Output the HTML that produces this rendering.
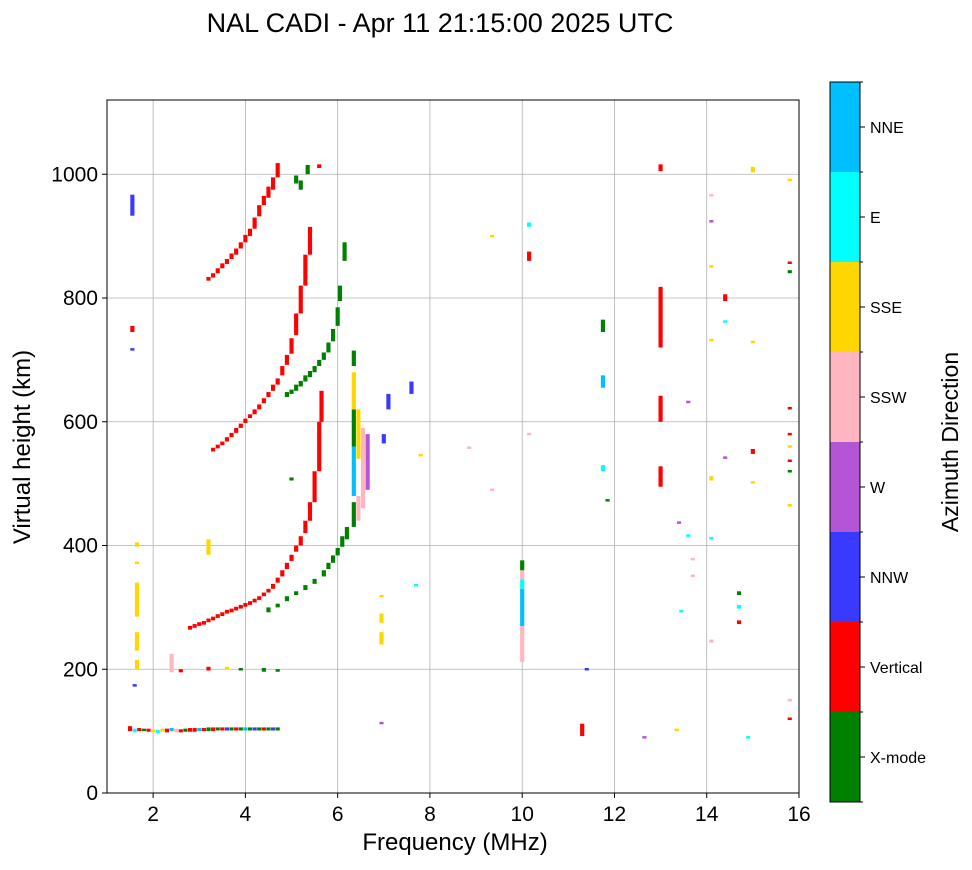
<!DOCTYPE html>
<html><head><meta charset="utf-8"><style>
body{margin:0;background:#fff;}
svg text{font-family:"Liberation Sans",sans-serif;fill:#000;}
</style></head><body>
<svg id="c" width="972" height="865" viewBox="0 0 972 865">
<text x="440" y="32" font-size="27" text-anchor="middle">NAL CADI - Apr 11 21:15:00 2025 UTC</text>
<g id="grid"></g>
<g id="marks"></g>
<rect x="107" y="100" width="692" height="693" fill="none" stroke="#000" stroke-width="1"/>
<g id="axes"></g>
<text x="455" y="850" font-size="24" text-anchor="middle">Frequency (MHz)</text>
<text transform="translate(30,447) rotate(-90)" font-size="24" text-anchor="middle">Virtual height (km)</text>
<g id="cbar"></g>
<text transform="translate(958,442) rotate(-90)" font-size="23" text-anchor="middle">Azimuth Direction</text>
</svg>
<script>
const xTicks=[2,4,6,8,10,12,14,16];
const yTicks=[0,200,400,600,800,1000];
const dirNames=["X-mode","Vertical","NNW","W","SSW","SSE","E","NNE"];
const dirColors=["#008000","#ff0000","#3a3aff","#b455d6","#ffb6c1","#ffd700","#00ffff","#00bfff"];
// traces: each point [freqMHz, heightLowKm, heightHighKm, dirIndex]
const eLayer=[[1.5,100,108,1],[1.6,98,104,6],[1.7,100,105,1],[1.8,100,104,0],[1.9,99,104,1],[2.0,98,103,5],[2.1,97,102,6],[2.2,99,104,5],[2.3,98,104,1],[2.4,100,105,7],[2.5,98,104,4],[2.6,98,103,1],[2.7,99,104,0],[2.8,99,105,1],[2.9,99,105,1],[3.0,100,105,7],[3.1,100,105,1],[3.2,100,106,0],[3.3,100,106,1],[3.4,101,106,0],[3.5,101,106,1],[3.6,101,106,2],[3.7,101,106,0],[3.8,101,106,1],[3.9,101,106,0],[4.0,101,106,7],[4.1,101,106,0],[4.2,101,106,2],[4.3,101,106,0],[4.4,101,106,1],[4.5,101,106,0],[4.6,101,106,2],[4.7,101,106,0]];
const f1Red=[[2.8,264,270,1],[2.9,267,273,1],[3.0,270,276,1],[3.1,272,278,1],[3.2,276,282,1],[3.3,279,285,1],[3.4,283,289,1],[3.5,286,292,1],[3.6,290,296,1],[3.7,292,298,1],[3.8,295,301,1],[3.9,298,304,1],[4.0,301,307,1],[4.1,304,310,1],[4.2,308,314,1],[4.3,312,318,1],[4.4,318,324,1],[4.5,324,330,1],[4.6,330,338,1],[4.7,340,348,1],[4.8,350,360,1],[4.9,362,372,1],[5.0,375,385,1],[5.1,390,400,1],[5.2,400,415,1],[5.3,420,440,1],[5.4,440,470,1],[5.5,470,520,1],[5.6,520,600,1],[5.65,600,650,1]];
const f1Green=[[4.5,292,300,0],[4.7,300,306,0],[4.9,310,318,0],[5.1,320,326,0],[5.3,328,336,0],[5.5,338,346,0],[5.7,350,360,0],[5.8,362,372,0],[5.9,372,384,0],[6.0,384,396,0],[6.1,398,415,0],[6.2,410,430,0]];
const hop2Red=[[3.3,552,558,1],[3.4,557,563,1],[3.5,562,568,1],[3.6,568,575,1],[3.7,575,582,1],[3.8,582,590,1],[3.9,590,597,1],[4.0,598,605,1],[4.1,606,612,1],[4.2,612,620,1],[4.3,620,628,1],[4.4,630,638,1],[4.5,640,648,1],[4.6,650,660,1],[4.7,660,670,1],[4.8,675,690,1],[4.9,692,708,1],[5.0,710,735,1],[5.1,740,775,1],[5.2,775,820,1],[5.3,820,870,1],[5.4,870,915,1]];
const hop2Green=[[4.9,640,648,0],[5.0,645,652,0],[5.1,650,660,0],[5.2,657,666,0],[5.3,665,675,0],[5.4,672,682,0],[5.5,680,690,0],[5.6,690,700,0],[5.7,700,712,0],[5.8,712,728,0],[5.9,730,750,0],[6.0,755,785,0],[6.05,795,820,0],[6.15,860,890,0]];
const hop3Red=[[3.2,828,834,1],[3.3,833,840,1],[3.4,840,848,1],[3.5,848,856,1],[3.6,855,863,1],[3.7,863,872,1],[3.8,870,880,1],[3.9,880,890,1],[4.0,890,902,1],[4.1,900,912,1],[4.2,912,930,1],[4.3,932,950,1],[4.4,950,965,1],[4.5,962,980,1],[4.6,975,995,1],[4.7,995,1018,1]];
const hop3Green=[[5.1,985,998,0],[5.2,975,990,0],[5.35,1000,1015,0],[5.6,1010,1016,1]];
const columns=[[1.55,933,967,2],[1.55,745,755,1],[1.55,715,719,2],[1.65,200,215,5],[1.65,230,260,5],[1.65,285,340,5],[1.65,370,374,5],[1.65,398,405,5],[1.6,172,176,2],[2.4,195,225,4],[2.6,195,200,1],[3.2,385,410,5],[3.2,198,204,1],[3.9,198,202,0],[4.4,196,202,0],[4.7,196,200,0],[6.35,430,470,0],[6.35,480,560,7],[6.35,560,620,0],[6.35,620,680,5],[6.35,690,715,0],[6.45,440,480,4],[6.45,540,620,5],[6.65,490,580,3],[6.55,460,590,4],[6.95,240,260,5],[6.95,275,290,5],[6.95,316,320,5],[7.0,565,580,2],[7.1,620,645,2],[7.6,645,665,2],[7.7,335,338,6],[7.8,545,548,5],[8.85,558,560,4],[9.35,488,492,4],[9.35,898,902,5],[10.0,212,270,4],[10.0,270,330,7],[10.0,330,345,6],[10.0,345,360,4],[10.0,360,376,0],[10.15,915,922,6],[10.15,860,875,1],[10.15,578,582,4],[11.3,92,112,1],[11.4,198,202,2],[11.75,655,675,7],[11.75,745,765,0],[11.75,520,530,6],[11.85,473,475,0],[12.65,88,92,3],[13.0,720,818,1],[13.0,600,642,1],[13.0,495,528,1],[13.0,1005,1016,1],[13.35,100,104,5],[13.4,435,439,3],[13.45,292,296,6],[13.6,630,634,3],[13.6,415,418,6],[13.7,376,380,4],[13.7,350,353,4],[14.1,965,968,4],[14.1,923,926,3],[14.1,850,853,5],[14.1,730,734,5],[14.1,505,512,5],[14.1,410,414,6],[14.1,243,248,4],[14.4,795,806,1],[14.4,760,764,6],[14.4,540,544,3],[14.7,320,326,0],[14.7,298,304,6],[14.7,273,279,1],[14.9,88,92,6],[15.0,1003,1012,5],[15.0,727,731,5],[15.0,548,556,1],[15.0,500,504,5],[15.8,990,993,5],[15.8,855,859,1],[15.8,840,845,0],[15.8,620,624,1],[15.8,578,582,1],[15.8,558,562,5],[15.8,535,539,1],[15.8,518,522,0],[15.8,463,467,5],[15.8,148,152,4],[15.8,118,122,1],[6.95,112,115,3],[3.6,200,204,5],[5.0,505,510,0]];
const traces=[eLayer,f1Red,f1Green,hop2Red,hop2Green,hop3Red,hop3Green,columns];
const X0=107,X1=799,Y0=793,Y1=100;
const xs=f=>X0+(f-1)/(16-1)*(X1-X0);
const ys=h=>Y0-h/1120*(Y0-Y1);
const NS="http://www.w3.org/2000/svg";
function mk(tag,at,parent){const e=document.createElementNS(NS,tag);for(const k in at)e.setAttribute(k,at[k]);parent.appendChild(e);return e;}
const grid=document.getElementById('grid'),axes=document.getElementById('axes'),marks=document.getElementById('marks'),cbar=document.getElementById('cbar');
xTicks.forEach(t=>{const x=xs(t);
 const g=mk('line',{x1:x,x2:x,y1:Y1,y2:Y0,stroke:'#b0b0b0','stroke-width':0.8},grid);
 
 
 mk('line',{x1:x,x2:x,y1:Y0,y2:Y0+5,stroke:'#000'},axes);
 const tx=mk('text',{x:x,y:Y0+28,'font-size':21,'text-anchor':'middle'},axes);tx.textContent=t;
 
 });
yTicks.forEach(t=>{const y=ys(t);
 const g=mk('line',{x1:X0,x2:X1,y1:y,y2:y,stroke:'#b0b0b0','stroke-width':0.8},grid);
 
 
 mk('line',{x1:X0-5,x2:X0,y1:y,y2:y,stroke:'#000'},axes);
 const tx=mk('text',{x:X0-9,y:y+7,'font-size':21,'text-anchor':'end'},axes);tx.textContent=t;
 
 });
traces.forEach(tr=>tr.forEach(p=>{
 const x=xs(p[0]),w=xs(p[0]+0.09)-x,yt=ys(p[2]),yb=ys(p[1]);
 const r=mk('rect',{x:x-w/2,y:yt,width:w,height:Math.max(2.5,yb-yt),fill:dirColors[p[3]]},marks);
 
 }));
const CX=830,CW=30,CT=82,CB=802,bh=(CB-CT)/dirNames.length;
dirNames.forEach((n,i)=>{const y=CB-(i+1)*bh;
 const r=mk('rect',{x:CX,y:y,width:CW,height:bh,fill:dirColors[i]},cbar);
 
 
 mk('line',{x1:CX+CW,x2:CX+CW+5,y1:y+bh/2,y2:y+bh/2,stroke:'#000'},cbar);
 const tx=mk('text',{x:CX+CW+10,y:y+bh/2+6,'font-size':16},cbar);tx.textContent=n;
 
 });
for(let i=0;i<=dirNames.length;i++){mk('line',{x1:CX+CW,x2:CX+CW+3,y1:CT+i*bh,y2:CT+i*bh,stroke:'#000'},cbar);}
mk('rect',{x:CX,y:CT,width:CW,height:CB-CT,fill:'none',stroke:'#000'},cbar);
</script>
</body></html>
